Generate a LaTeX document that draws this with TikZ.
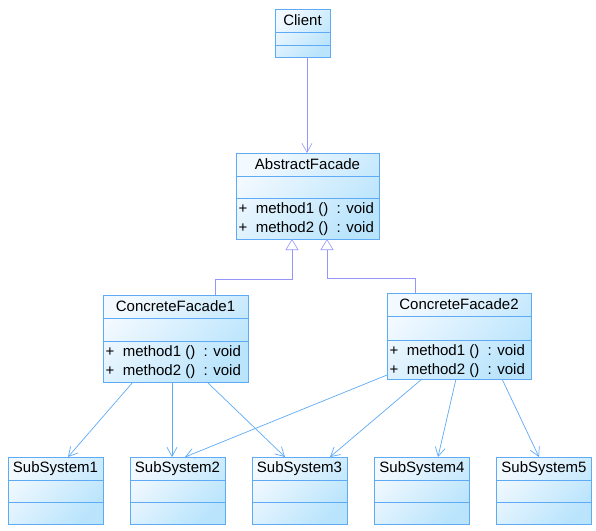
\documentclass[tikz,border=0pt]{standalone}
\usepackage{fontspec}
\setmainfont{Liberation Sans}
\usetikzlibrary{arrows.meta}
\definecolor{rahmen}{RGB}{95,170,245}
\definecolor{fuellung}{RGB}{185,228,252}
\definecolor{hell}{RGB}{242,249,255}
\definecolor{lila}{RGB}{150,150,250}
\tikzset{
  klasse/.style={draw=rahmen, line width=0.8pt, inner sep=0pt, outer sep=0pt,
    top color=hell, bottom color=fuellung, shading angle=45},
  trenn/.style={draw=rahmen, line width=0.8pt},
  titel/.style={inner sep=0pt, font=\fontsize{15}{18}\selectfont},
  methoden/.style={inner xsep=2.5pt, inner ysep=4pt, align=left,
    font=\fontsize{15}{19}\selectfont},
  erbt/.style={draw=lila, line width=0.6pt,
    -{Triangle[open, length=11pt, width=13pt, fill=white]}},
  nutzt/.style={draw=lila, line width=0.6pt, -{Straight Barb[length=9pt, width=10pt]}},
  assoz/.style={draw=rahmen, line width=0.7pt, -{Straight Barb[length=9pt, width=10pt]}}
}
\begin{document}
\begin{tikzpicture}[x=1pt, y=-1pt]
  \useasboundingbox (0,0) rectangle (596,530);
  % Client
  \node[klasse, minimum width=55pt, minimum height=48pt] (client) at (302.5,33) {};
  \draw[trenn] ([yshift=-23pt]client.north west) -- ([yshift=-23pt]client.north east);
  \draw[trenn] ([yshift=-36pt]client.north west) -- ([yshift=-36pt]client.north east);
  \node[titel] (client-name) at ([yshift=-11.5pt]client.north) {Client};
  % AbstractFacade
  \node[klasse, minimum width=143pt, minimum height=86pt] (af) at (307.5,196) {};
  \draw[trenn] ([yshift=-23pt]af.north west) -- ([yshift=-23pt]af.north east);
  \draw[trenn] ([yshift=-45pt]af.north west) -- ([yshift=-45pt]af.north east);
  \node[titel] (af-name) at ([yshift=-11.5pt]af.north) {AbstractFacade};
  \node[methoden, anchor=north west] (af-meth) at ([yshift=-45pt]af.north west)
    {+\ \ method1 ()\ \ : void\\+\ \ method2 ()\ \ : void};
  % ConcreteFacade1
  \node[klasse, minimum width=145pt, minimum height=87pt] (cf1) at (175.5,338.5) {};
  \draw[trenn] ([yshift=-23pt]cf1.north west) -- ([yshift=-23pt]cf1.north east);
  \draw[trenn] ([yshift=-46pt]cf1.north west) -- ([yshift=-46pt]cf1.north east);
  \node[titel] (cf1-name) at ([yshift=-11.5pt]cf1.north) {ConcreteFacade1};
  \node[methoden, anchor=north west] (cf1-meth) at ([yshift=-46pt]cf1.north west)
    {+\ \ method1 ()\ \ : void\\+\ \ method2 ()\ \ : void};
  % ConcreteFacade2
  \node[klasse, minimum width=144pt, minimum height=86pt] (cf2) at (459,336) {};
  \draw[trenn] ([yshift=-23pt]cf2.north west) -- ([yshift=-23pt]cf2.north east);
  \draw[trenn] ([yshift=-47pt]cf2.north west) -- ([yshift=-47pt]cf2.north east);
  \node[titel] (cf2-name) at ([yshift=-11.5pt]cf2.north) {ConcreteFacade2};
  \node[methoden, anchor=north west] (cf2-meth) at ([yshift=-47pt]cf2.north west)
    {+\ \ method1 ()\ \ : void\\+\ \ method2 ()\ \ : void};
  % SubSystems
  \foreach \i/\x in {1/55.5, 2/177.5, 3/299.5, 4/422, 5/544} {
    \node[klasse, minimum width=95pt, minimum height=67pt] (ss\i) at (\x,490.5) {};
    \draw[trenn] ([yshift=-23pt]ss\i.north west) -- ([yshift=-23pt]ss\i.north east);
    \draw[trenn] ([yshift=-45pt]ss\i.north west) -- ([yshift=-45pt]ss\i.north east);
    \node[titel] (ss\i-name) at ([yshift=-11.5pt]ss\i.north) {SubSystem\i};
  }
  % Abhaengigkeit
  \draw[nutzt] ([xshift=4.5pt]client.south) -- ([xshift=-0.5pt]af.north);
  % Vererbung
  \draw[erbt] ([xshift=39.5pt]cf1.north) -- ++(0,-16) -| ([xshift=-15.5pt]af.south);
  \draw[erbt] ([xshift=-44pt]cf2.north) -- ++(0,-15) -| ([xshift=19.5pt]af.south);
  % Assoziationen
  \draw[assoz] ([xshift=-42.5pt]cf1.south) -- ([xshift=12.5pt]ss1.north);
  \draw[assoz] ([xshift=-3.5pt]cf1.south) -- ([xshift=-5.5pt]ss2.north);
  \draw[assoz] ([xshift=31.5pt]cf1.south) -- ([xshift=-14.5pt]ss3.north);
  \draw[assoz] ([yshift=4pt]cf2.south west) -- ([xshift=7.5pt]ss2.north);
  \draw[assoz] ([xshift=-37pt]cf2.south) -- ([xshift=30.5pt]ss3.north);
  \draw[assoz] ([xshift=-3pt]cf2.south) -- ([xshift=16pt]ss4.north);
  \draw[assoz] ([xshift=43pt]cf2.south) -- ([xshift=-5pt]ss5.north);
\end{tikzpicture}
\end{document}
